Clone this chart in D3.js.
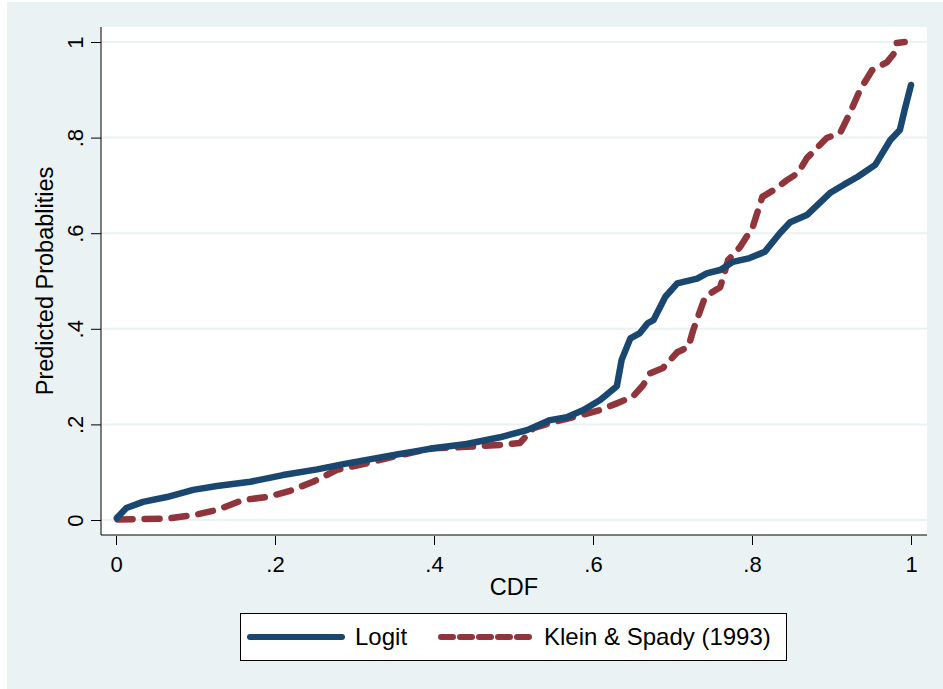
<!DOCTYPE html>
<html>
<head>
<meta charset="utf-8">
<script src="https://cdn.jsdelivr.net/npm/d3@7"></script>
<style>
  body { margin: 0; background: #fff; }
  svg { display: block; font-family: "Liberation Sans", Arial, sans-serif; }
</style>
</head>
<body>
<div id="chart"></div>
<script>
// data
var logitCdf  = [0.001, 0.013, 0.034, 0.064, 0.097, 0.127, 0.169, 0.21, 0.253, 0.286, 0.336, 0.357, 0.378, 0.399, 0.441, 0.483, 0.517, 0.546, 0.567, 0.588, 0.609, 0.630, 0.636, 0.647, 0.659, 0.669, 0.676, 0.691, 0.706, 0.731, 0.743, 0.760, 0.776, 0.797, 0.816, 0.835, 0.848, 0.869, 0.898, 0.915, 0.933, 0.955, 0.974, 0.986, 0.992, 1.0];
var logitProb = [0.004, 0.025, 0.038, 0.048, 0.063, 0.071, 0.080, 0.094, 0.106, 0.117, 0.132, 0.138, 0.144, 0.150, 0.159, 0.173, 0.188, 0.209, 0.215, 0.230, 0.251, 0.280, 0.335, 0.380, 0.391, 0.412, 0.418, 0.467, 0.495, 0.505, 0.516, 0.523, 0.540, 0.548, 0.561, 0.600, 0.623, 0.638, 0.684, 0.701, 0.718, 0.743, 0.795, 0.816, 0.858, 0.910];

var ksCdf  = [0.002, 0.064, 0.097, 0.127, 0.160, 0.19, 0.219, 0.248, 0.278, 0.316, 0.348, 0.378, 0.399, 0.441, 0.483, 0.508, 0.525, 0.546, 0.575, 0.609, 0.630, 0.650, 0.663, 0.672, 0.688, 0.706, 0.720, 0.726, 0.741, 0.760, 0.770, 0.785, 0.801, 0.813, 0.827, 0.844, 0.858, 0.869, 0.894, 0.911, 0.923, 0.936, 0.951, 0.970, 0.980, 0.982, 0.992];
var ksProb = [0.001, 0.003, 0.010, 0.021, 0.042, 0.048, 0.061, 0.080, 0.105, 0.119, 0.132, 0.143, 0.150, 0.153, 0.157, 0.161, 0.192, 0.203, 0.215, 0.230, 0.244, 0.258, 0.282, 0.307, 0.318, 0.351, 0.362, 0.397, 0.467, 0.487, 0.544, 0.571, 0.613, 0.676, 0.690, 0.711, 0.726, 0.757, 0.799, 0.810, 0.851, 0.900, 0.941, 0.958, 0.979, 0.998, 1.0];

var seriesNames = ["Logit", "Klein & Spady (1993)"];
var xTicks = [0, 0.2, 0.4, 0.6, 0.8, 1];
var xTickLabels = ["0", ".2", ".4", ".6", ".8", "1"];
var yTicks = [0, 0.2, 0.4, 0.6, 0.8, 1];
var yTickLabels = ["0", ".2", ".4", ".6", ".8", "1"];

var W = 943, H = 689;
var blue = "#1a476f", red = "#90353b", bg = "#eaf2f3";

var svg = d3.select("#chart").append("svg")
  .attr("width", W).attr("height", H);

// outer background
svg.append("rect").attr("width", W).attr("height", H).attr("fill", "#fff");
svg.append("rect").attr("x", 7).attr("y", 2).attr("width", W - 7).attr("height", H - 2).attr("fill", bg);

// plot region
var plot = {left: 101, right: 927, top: 27, bottom: 535};
svg.append("rect")
  .attr("x", plot.left).attr("y", plot.top)
  .attr("width", plot.right - plot.left).attr("height", plot.bottom - plot.top)
  .attr("fill", "#fff");

var x = d3.scaleLinear().domain([0, 1]).range([116, 911]);
var y = d3.scaleLinear().domain([0, 1]).range([520, 42]);

// gridlines
svg.append("g").selectAll("line")
  .data(yTicks)
  .enter().append("line")
  .attr("x1", plot.left).attr("x2", plot.right)
  .attr("y1", d => y(d)).attr("y2", d => y(d))
  .attr("stroke", bg).attr("stroke-width", 2);

// y axis
var yAxis = svg.append("g")
  .attr("transform", "translate(" + plot.left + ",0)")
  .call(d3.axisLeft(y).tickValues(yTicks).tickFormat((d, i) => yTickLabels[i]).tickSize(10).tickSizeOuter(0));
yAxis.select(".domain").attr("d", "M0," + plot.top + "V" + plot.bottom).attr("stroke", "#000");
yAxis.selectAll(".tick line").attr("stroke", "#000");
yAxis.selectAll(".tick text")
  .attr("x", 0).attr("dy", null)
  .attr("transform", "translate(-18,0) rotate(-90)")
  .style("text-anchor", "middle")
  .attr("font-size", 22).attr("fill", "#000");

// x axis
var xAxis = svg.append("g")
  .attr("transform", "translate(0," + plot.bottom + ")")
  .call(d3.axisBottom(x).tickValues(xTicks).tickFormat((d, i) => xTickLabels[i]).tickSize(10).tickSizeOuter(0));
xAxis.select(".domain").attr("d", "M" + plot.left + ",0H" + plot.right).attr("stroke", "#000");
xAxis.selectAll(".tick line").attr("stroke", "#000").attr("y1", 1);
xAxis.selectAll(".tick text")
  .attr("y", 37).attr("dy", null)
  .attr("font-size", 22).attr("fill", "#000");

// axis titles
svg.append("text")
  .attr("transform", "translate(53,281) rotate(-90)")
  .attr("text-anchor", "middle")
  .attr("font-size", 23.5)
  .text("Predicted Probablities");
svg.append("text")
  .attr("x", 514).attr("y", 595)
  .attr("text-anchor", "middle")
  .attr("font-size", 23.5)
  .text("CDF");

// lines
var line = d3.line()
  .x(d => x(d[0]))
  .y(d => y(d[1]));

var logitData = logitCdf.map((c, i) => [c, logitProb[i]]);
var ksData = ksCdf.map((c, i) => [c, ksProb[i]]);

svg.append("path")
  .datum(ksData)
  .attr("d", line)
  .attr("fill", "none")
  .attr("stroke", red)
  .attr("stroke-width", 6.5)
  .attr("stroke-linecap", "round")
  .attr("stroke-linejoin", "round")
  .attr("stroke-dasharray", "15,12");

svg.append("path")
  .datum(logitData)
  .attr("d", line)
  .attr("fill", "none")
  .attr("stroke", blue)
  .attr("stroke-width", 6.5)
  .attr("stroke-linecap", "round")
  .attr("stroke-linejoin", "round");

// legend
var legend = svg.append("g");
legend.append("rect")
  .attr("x", 240.5).attr("y", 613.5).attr("width", 546).attr("height", 47)
  .attr("fill", "#fff").attr("stroke", "#000").attr("stroke-width", 1);
legend.append("line")
  .attr("x1", 250).attr("x2", 342).attr("y1", 637).attr("y2", 637)
  .attr("stroke", blue).attr("stroke-width", 6).attr("stroke-linecap", "round");
legend.append("text")
  .attr("x", 355).attr("y", 645).attr("font-size", 24)
  .text(seriesNames[0]);
legend.append("line")
  .attr("x1", 441).attr("x2", 531).attr("y1", 637).attr("y2", 637)
  .attr("stroke", red).attr("stroke-width", 6).attr("stroke-linecap", "round")
  .attr("stroke-dasharray", "12,7");
legend.append("text")
  .attr("x", 544).attr("y", 645).attr("font-size", 24)
  .text(seriesNames[1]);
</script>
</body>
</html>
